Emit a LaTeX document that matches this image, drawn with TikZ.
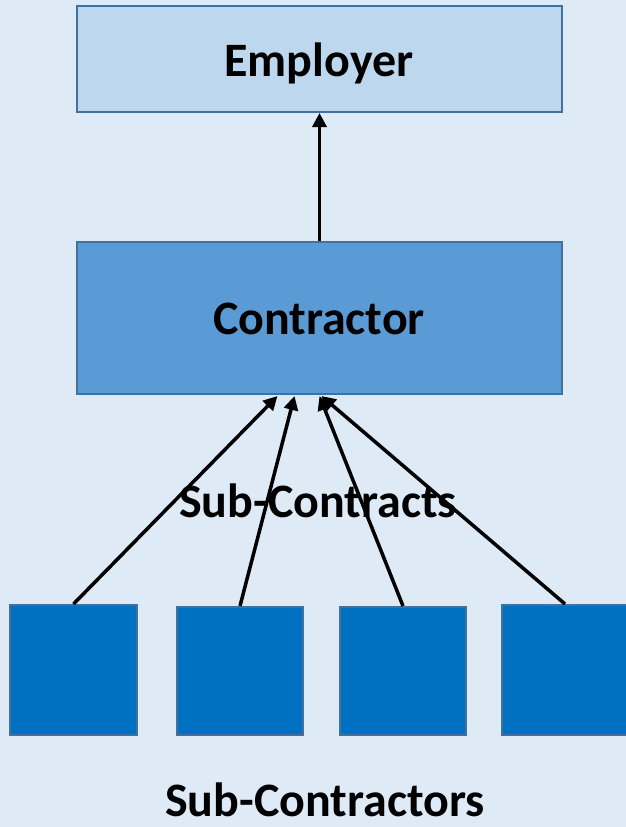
\documentclass[tikz,border=0pt]{standalone}
\usepackage{fontspec}
\setmainfont{Carlito}
\usetikzlibrary{arrows.meta,calc}
\definecolor{bgc}{HTML}{DEEAF6}
\definecolor{empfill}{HTML}{BDD7EE}
\definecolor{confill}{HTML}{5B9BD5}
\definecolor{subfill}{HTML}{0070C0}
\definecolor{edgec}{HTML}{41719C}
\begin{document}
\begin{tikzpicture}[x=1pt,y=-1pt,
  box/.style={draw=edgec,line width=2pt,rectangle,inner sep=0pt},
  lbl/.style={font=\fontsize{48}{52}\selectfont\bfseries,anchor=base,inner sep=0pt},
  conn/.style={line width=3.5pt,-{Triangle[length=14pt,width=14pt]}}]
\fill[bgc] (0,0) rectangle (626,827);
\useasboundingbox (0,0) rectangle (626,827);
\node[box,fill=empfill,minimum width=485pt,minimum height=106pt] (employer) at (319.5,59) {};
\node[box,fill=confill,minimum width=485pt,minimum height=152pt] (contractor) at (319.5,318) {};
\node[box,fill=subfill,minimum width=127pt,minimum height=130pt] (s1) at (73.5,670) {};
\node[box,fill=subfill,minimum width=126pt,minimum height=128pt] (s2) at (240,671) {};
\node[box,fill=subfill,minimum width=126pt,minimum height=128pt] (s3) at (403,671) {};
\node[box,fill=subfill,minimum width=126pt,minimum height=130pt] (s4) at (565,670) {};
\node[lbl] (temp) at (319,76) {Employer};
\node[lbl] (tcon) at (319,334) {Contractor};
\node[lbl] (tsub) at (318,517) {Sub-Contracts};
\node[lbl,text depth=0pt] (tsubs) at (325,816) {Sub-Contractors};
\draw[conn] (contractor.north) -- (employer.south);
\draw[conn] (s1.north) -- ($(contractor.south)+(-42,1)$);
\draw[conn] (s2.north) -- ($(contractor.south)+(-25,1)$);
\draw[conn] (s3.north) -- ($(contractor.south)+(0,1)$);
\draw[conn] (s4.north) -- ($(contractor.south)+(2,1)$);
\end{tikzpicture}
\end{document}
